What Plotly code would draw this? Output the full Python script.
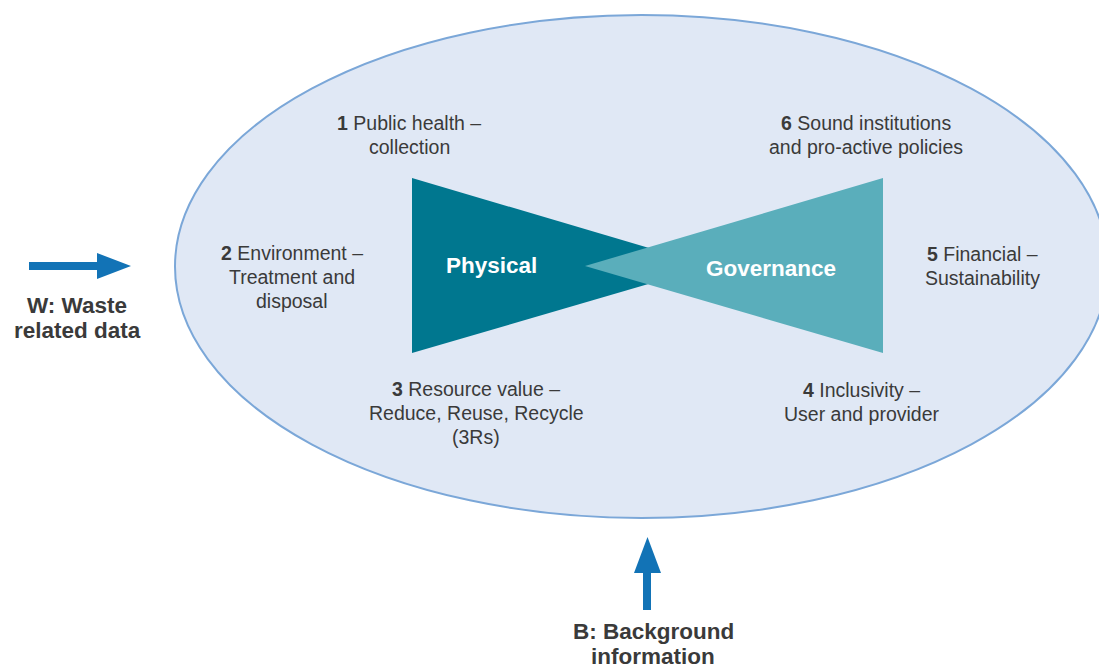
import plotly.graph_objects as go

# diagram laid out in page pixels (x right, y down)
ellipse_box = [175, 15, 1108, 518]  # x0, y0, x1, y1

physical_x = [412, 412, 710]
physical_y = [178, 353, 266]
governance_x = [883, 883, 585]
governance_y = [178, 353, 266]

w_arrow_x = [29, 97, 97, 131, 97, 97, 29]
w_arrow_y = [262, 262, 253, 266, 279, 270, 270]
b_arrow_x = [643, 643, 634, 647.5, 661, 651, 651]
b_arrow_y = [610, 573, 573, 537, 573, 573, 610]

label_text = [
    "<b>1</b> Public health –<br>collection",
    "<b>2</b> Environment –<br>Treatment and<br>disposal",
    "<b>3</b> Resource value –<br>Reduce, Reuse, Recycle<br>(3Rs)",
    "<b>4</b> Inclusivity –<br>User and provider",
    "<b>5</b> Financial –<br>Sustainability",
    "<b>6</b> Sound institutions<br>and pro-active policies",
]
label_x = [409, 292, 476, 861, 982, 866]
label_y = [123, 253, 389, 390, 254, 123]  # first line

center_text = ["Physical", "Governance"]
center_x = [491, 771]
center_y = [265, 268]

input_text = ["W: Waste<br>related data", "B: Background<br>information"]
input_x = [77, 653]
input_y = [305, 631]  # first line

DARK = "#00778f"
LIGHT = "#5aaebb"
BLUE = "#1273b6"
GREY = "#3a3a3a"
FONT = "Liberation Sans, Arial, sans-serif"
OFF = 8  # page body margin

fig = go.Figure()

fig.add_shape(type="circle", xref="x", yref="y",
              x0=ellipse_box[0], y0=ellipse_box[1], x1=ellipse_box[2], y1=ellipse_box[3],
              fillcolor="#e0e8f5", line=dict(color="#7ba7d8", width=2), layer="below")

for xs, ys, col in [(physical_x, physical_y, DARK), (governance_x, governance_y, LIGHT),
                    (w_arrow_x, w_arrow_y, BLUE), (b_arrow_x, b_arrow_y, BLUE)]:
    fig.add_trace(go.Scatter(x=xs, y=ys, mode="lines", fill="toself", fillcolor=col,
                             line=dict(width=0, color=col), hoverinfo="skip", showlegend=False))


def add_lines(text, x, y, step, font):
    # one annotation per line so the line spacing matches the reference
    for i, line in enumerate(text.split("<br>")):
        fig.add_annotation(x=x, y=y + i * step, text=line, showarrow=False, font=font)


for t, x, y in zip(label_text, label_x, label_y):
    add_lines(t, x, y, 24, dict(family=FONT, size=19.5, color=GREY))

for t, x, y in zip(center_text, center_x, center_y):
    add_lines("<b>%s</b>" % t, x, y, 0, dict(family=FONT, size=22.5, color="white"))

for t, x, y in zip(input_text, input_x, input_y):
    add_lines("<b>%s</b>" % t.replace("<br>", "</b><br><b>"), x, y, 25,
              dict(family=FONT, size=22.5, color=GREY))

fig.update_layout(
    width=1107, height=666, autosize=False,
    margin=dict(l=0, r=0, t=0, b=0),
    paper_bgcolor="white", plot_bgcolor="white",
    xaxis=dict(range=[OFF, 1107 + OFF], visible=False, fixedrange=True),
    yaxis=dict(range=[666 + OFF, OFF], visible=False, fixedrange=True),
    showlegend=False,
)

fig.write_html("out.html")
